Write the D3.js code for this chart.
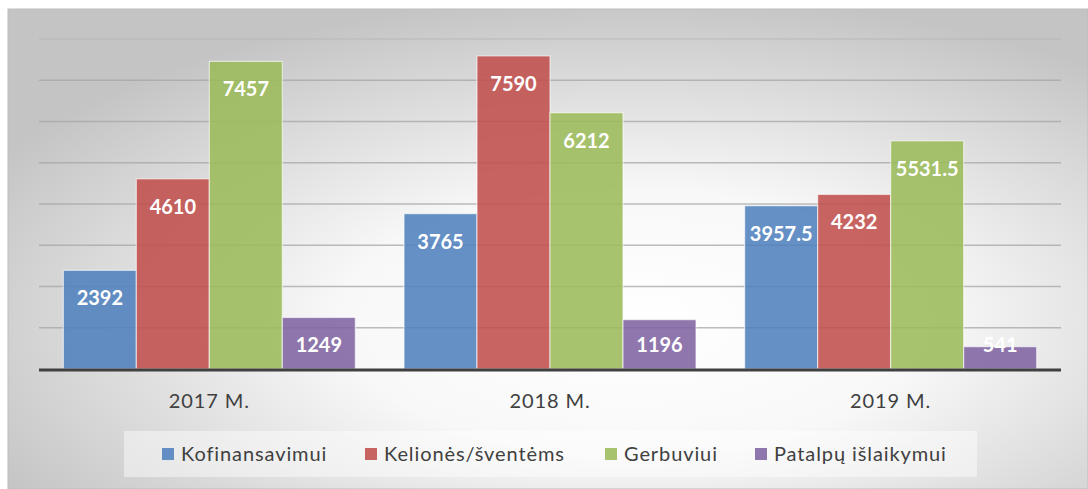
<!DOCTYPE html>
<html>
<head>
<meta charset="utf-8">
<script src="https://cdn.jsdelivr.net/npm/d3@7"></script>
<style>
  body { margin: 0; background: #fff; }
  svg { display: block; }
</style>
</head>
<body>
<div id="chart-area"></div>
<script>
// chart size
width = 1088;
height = 489

// data
let years = ["2017 M.", "2018 M.", "2019 M."]
let series = ["Kofinansavimui", "Kelionės/šventėms", "Gerbuviui", "Patalpų išlaikymui"]
let kofinansavimui = [2392, 3765, 3957.5]
let keliones = [4610, 7590, 4232]
let gerbuviui = [7457, 6212, 5531.5]
let patalpu = [1249, 1196, 541]
let yTicks = [0, 1000, 2000, 3000, 4000, 5000, 6000, 7000, 8000]

let colors = ["#4f81bd", "#c0504d", "#9bbb59", "#8064a2"]
let values = [kofinansavimui, keliones, gerbuviui, patalpu]

let font = "Lato, 'Open Sans', sans-serif"

let svg = d3.select("#chart-area")
  .append("svg")
  .attr("width", width)
  .attr("height", height)

// background gradient
let defs = svg.append("defs")
let grad = defs.append("radialGradient")
  .attr("id", "bg")
  .attr("cx", "58%").attr("cy", "65%")
  .attr("r", "68%")
grad.append("stop").attr("offset", "0%").attr("stop-color", "#ffffff")
grad.append("stop").attr("offset", "40%").attr("stop-color", "#f8f8f8")
grad.append("stop").attr("offset", "100%").attr("stop-color", "#c4c4c4")

svg.append("rect")
  .attr("x", 8).attr("y", 9)
  .attr("width", width - 8).attr("height", height - 9)
  .attr("fill", "url(#bg)")
  .attr("stroke", "#bdbdbd")
  .attr("stroke-width", 1)

// scales
let x0 = d3.scaleBand().domain(years).range([39, 1061])
let y = d3.scaleLinear().domain([0, 8000]).range([369, 39])

// gridlines
svg.append("g")
  .selectAll("line")
  .data(yTicks.slice(1))
  .enter().append("line")
  .attr("x1", 39).attr("x2", 1061)
  .attr("y1", d => y(d)).attr("y2", d => y(d))
  .attr("stroke", "#a6a6a6")
  .attr("stroke-opacity", d => d == 8000 ? 0.35 : 0.75)
  .attr("stroke-width", 1.5)

// bars
let barW = 73
let groupPad = (x0.bandwidth() - barW * 4) / 2

series.forEach((s, i) => {
  let g = svg.append("g")
  g.selectAll("rect")
    .data(values[i])
    .enter().append("rect")
    .attr("x", (d, j) => x0(years[j]) + groupPad + i * barW)
    .attr("y", d => y(d))
    .attr("width", barW)
    .attr("height", d => y(0) - y(d))
    .attr("fill", colors[i])
    .attr("fill-opacity", 0.88)
    .attr("stroke", "#ffffff")
    .attr("stroke-opacity", 0.6)
    .attr("stroke-width", 1.2)

  g.selectAll("text")
    .data(values[i])
    .enter().append("text")
    .attr("x", (d, j) => x0(years[j]) + groupPad + i * barW + barW / 2)
    .attr("y", d => Math.min(y(d) + 35, y(0) - 17))
    .attr("text-anchor", "middle")
    .attr("font-family", font)
    .attr("font-weight", "bold")
    .attr("font-size", 20)
    .attr("fill", "#ffffff")
    .text(d => d)
})

// baseline
svg.append("line")
  .attr("x1", 39).attr("x2", 1061)
  .attr("y1", y(0) + 1).attr("y2", y(0) + 1)
  .attr("stroke", "#404040")
  .attr("stroke-width", 3)

// category labels
svg.append("g")
  .selectAll("text")
  .data(years)
  .enter().append("text")
  .attr("x", d => x0(d) + x0.bandwidth() / 2)
  .attr("y", 408)
  .attr("text-anchor", "middle")
  .attr("font-family", font)
  .attr("font-size", 20)
  .attr("letter-spacing", 0.9)
  .attr("fill", "#404040")
  .text(d => d)

// legend
svg.append("rect")
  .attr("x", 124).attr("y", 431)
  .attr("width", 853).attr("height", 46)
  .attr("fill", "#ffffff")
  .attr("fill-opacity", 0.45)

let legendX = [162, 365, 605, 755]
series.forEach((s, i) => {
  svg.append("rect")
    .attr("x", legendX[i]).attr("y", 448)
    .attr("width", 12).attr("height", 12)
    .attr("fill", colors[i])
    .attr("fill-opacity", 0.88)
  svg.append("text")
    .attr("x", legendX[i] + 19)
    .attr("y", 461)
    .attr("font-family", font)
    .attr("font-size", 20)
    .attr("letter-spacing", 0.9)
    .attr("fill", "#404040")
    .text(s)
})
</script>
</body>
</html>
